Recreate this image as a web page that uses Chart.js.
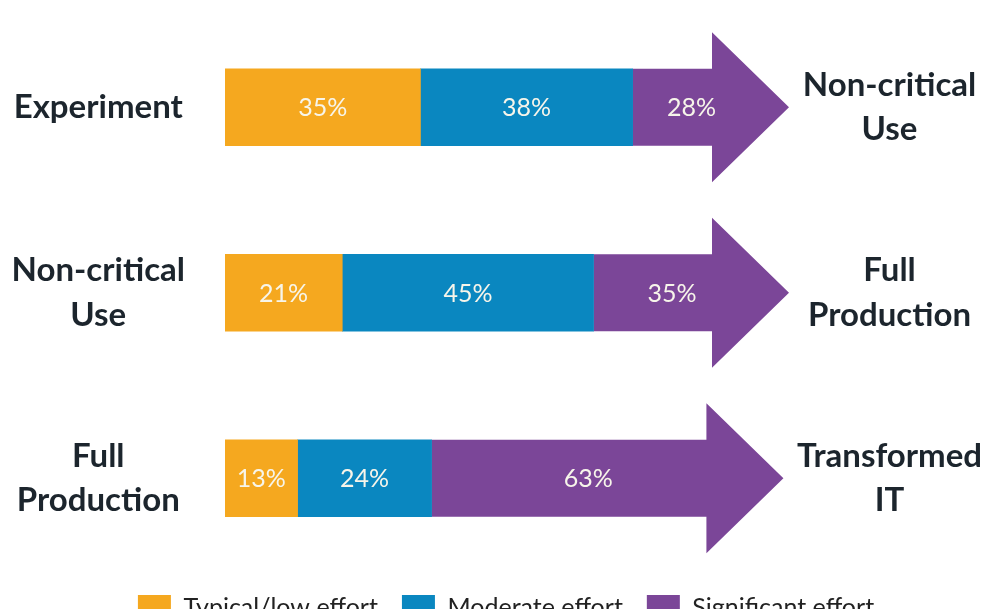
<!DOCTYPE html>
<html>
<head>
<meta charset="utf-8">
<script src="https://cdn.jsdelivr.net/npm/chart.js@4.4.1/dist/chart.umd.min.js"></script>
<style>
  html, body { margin: 0; padding: 0; background: #ffffff; overflow: hidden; }
  #wrap { width: 982px; height: 630px; }
</style>
</head>
<body>
<div id="wrap"><canvas id="c" width="982" height="630"></canvas></div>
<script>
// ---- data ----
const categories = ['Experiment', 'Non-critical Use', 'Full Production'];
const leftLabels = ['Experiment', ['Non-critical', 'Use'], ['Full', 'Production']];
const rightLabels = [['Non-critical', 'Use'], ['Full', 'Production'], ['Transformed', 'IT']];
const seriesNames = ['Typical/low effort', 'Moderate effort', 'Significant effort'];
const typicalLow = [35, 21, 13];
const moderate = [38, 45, 24];
const significant = [28, 35, 63];

const COLORS = ['#F5A81F', '#0A87C0', '#7B4698'];
const HEAD_LEN = 77;
const HEAD_HALF = 75;

const arrowPlugin = {
  id: 'arrowBars',
  afterLayout(chart) {
    // shift the legend block slightly to the right, as in the original
    if (chart.legend) { chart.legend.left += 30; }
  },
  beforeDatasetDraw(chart, args) {
    if (args.index !== 2) return;
    const ctx = chart.ctx;
    const meta = args.meta;
    ctx.save();
    ctx.fillStyle = COLORS[2];
    meta.data.forEach(el => {
      const p = el.getProps(['x', 'y', 'base', 'height'], true);
      const half = p.height / 2;
      const hs = p.x - HEAD_LEN;
      ctx.beginPath();
      ctx.moveTo(p.base, p.y - half);
      ctx.lineTo(hs, p.y - half);
      ctx.lineTo(hs, p.y - HEAD_HALF);
      ctx.lineTo(p.x, p.y);
      ctx.lineTo(hs, p.y + HEAD_HALF);
      ctx.lineTo(hs, p.y + half);
      ctx.lineTo(p.base, p.y + half);
      ctx.closePath();
      ctx.fill();
    });
    ctx.restore();
    return false;
  },
  afterDatasetsDraw(chart) {
    const ctx = chart.ctx;
    ctx.save();
    ctx.font = '25px Lato';
    ctx.fillStyle = '#f7f5ea';
    ctx.textAlign = 'center';
    ctx.textBaseline = 'middle';
    chart.data.datasets.forEach((ds, di) => {
      const meta = chart.getDatasetMeta(di);
      meta.data.forEach((el, i) => {
        const p = el.getProps(['x', 'y', 'base'], true);
        const end = di === 2 ? p.x - HEAD_LEN / 2 : p.x;
        const cx = (p.base + end) / 2;
        ctx.fillText(ds.data[i] + '%', cx, p.y + 1);
      });
    });
    ctx.restore();
  }
};

function fixWidth(w) {
  return function (scale) {
    scale.width = w;
    scale.paddingTop = 0;
    scale.paddingBottom = 0;
  };
}

new Chart(document.getElementById('c'), {
  type: 'bar',
  data: {
    labels: categories,
    datasets: [
      { label: seriesNames[0], data: typicalLow, backgroundColor: COLORS[0], borderWidth: 0 },
      { label: seriesNames[1], data: moderate, backgroundColor: COLORS[1], borderWidth: 0 },
      { label: seriesNames[2], data: significant, backgroundColor: COLORS[2], borderWidth: 0 }
    ]
  },
  options: {
    indexAxis: 'y',
    responsive: false,
    animation: false,
    barThickness: 77,
    layout: { padding: { left: 0, top: 14.5, right: 0, bottom: 0 } },
    plugins: {
      legend: {
        position: 'bottom',
        labels: {
          font: { family: 'Lato', size: 25 },
          color: '#222222',
          boxWidth: 33,
          boxHeight: 25,
          padding: 24
        }
      },
      tooltip: { enabled: false }
    },
    scales: {
      x: { stacked: true, min: 0, max: 101, display: false },
      y: {
        type: 'category',
        labels: leftLabels,
        stacked: true,
        position: 'left',
        offset: true,
        grid: { display: false, drawTicks: false },
        border: { display: false },
        afterFit: fixWidth(225),
        ticks: {
          autoSkip: false,
          crossAlign: 'center',
          padding: 40,
          color: '#1c252d',
          font: { family: 'Lato', size: 33, weight: 'bold', lineHeight: 1.35 }
        }
      },
      y2: {
        type: 'category',
        labels: rightLabels,
        position: 'right',
        offset: true,
        grid: { display: false, drawTicks: false },
        border: { display: false },
        afterFit: fixWidth(193),
        ticks: {
          autoSkip: false,
          crossAlign: 'center',
          padding: 8,
          color: '#1c252d',
          font: { family: 'Lato', size: 33, weight: 'bold', lineHeight: 1.35 }
        }
      }
    }
  },
  plugins: [arrowPlugin]
});
</script>
</body>
</html>
